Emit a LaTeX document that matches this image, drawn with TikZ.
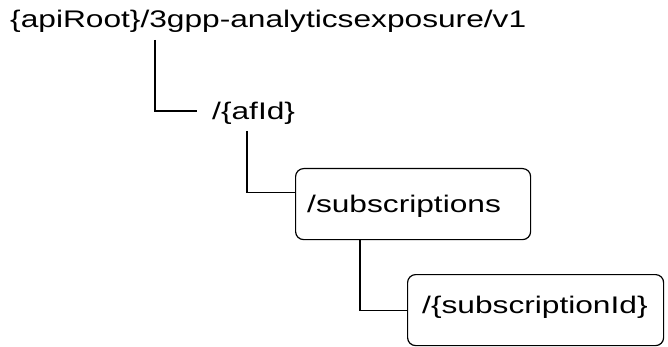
\documentclass[tikz,border=0pt]{standalone}
\usepackage{fontspec}
\setmainfont{Liberation Sans}
\newcommand{\wtxt}[1]{\scalebox{1.32}[1]{#1}}
\begin{document}
\begin{tikzpicture}[x=1pt,y=-1pt,
  lbl/.style={inner sep=0pt, anchor=base west, font=\fontsize{24}{28}\selectfont},
  resbox/.style={draw, line width=1.2pt, rounded corners=8pt, inner sep=0pt,
    anchor=north west},
  conn/.style={line width=1.2pt}]
\useasboundingbox (0,0) rectangle (668,347);
\node[lbl] (root) at (10,28) {\wtxt{\{apiRoot\}/3gpp-analyticsexposure/v1}};
\node[lbl] (afid) at (212,120) {\wtxt{/\{afId\}}};
\node[resbox, minimum width=235pt, minimum height=71pt] (subs) at (295,168) {};
\node[lbl] (subst) at (307,212) {\wtxt{/subscriptions}};
\node[resbox, minimum width=256pt, minimum height=71pt] (subid) at (407,274) {};
\node[lbl] (subidt) at (422,313) {\wtxt{/\{subscriptionId\}}};
\coordinate (c1) at (155,40);
\coordinate (e1) at (197,111);
\coordinate (c2) at (247,131);
\draw[conn] (c1) |- (e1);
\draw[conn] (c2) |- ([yshift=11.5pt]subs.west);
\draw[conn] ([xshift=65pt]subs.south west) |- (subid.west);
\end{tikzpicture}
\end{document}
